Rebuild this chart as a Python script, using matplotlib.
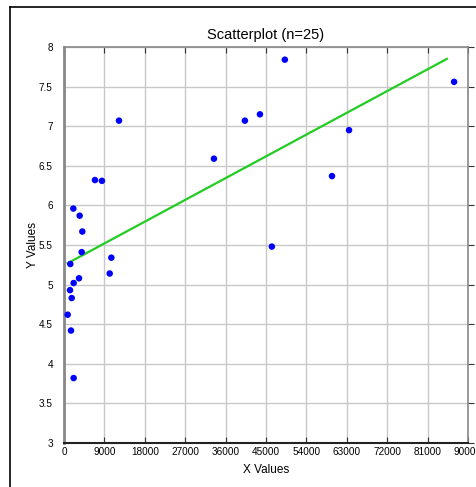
import numpy as np
import matplotlib
matplotlib.use('Agg')
import matplotlib.pyplot as plt
from matplotlib.lines import Line2D

plt.rcParams['font.family'] = ['Liberation Sans', 'DejaVu Sans']

# points
x_vals = [49200, 86900, 12250, 40300, 43650, 63500, 33400, 6900, 8450, 59700,
          46300, 2080, 3490, 4080, 3940, 1410, 10550, 10180, 3340, 2150,
          1340, 1710, 820, 1560, 2150]
y_vals = [7.84, 7.56, 7.07, 7.07, 7.15, 6.95, 6.59, 6.32, 6.31, 6.37,
          5.48, 5.96, 5.87, 5.67, 5.41, 5.26, 5.34, 5.14, 5.08, 5.02,
          4.93, 4.83, 4.62, 4.42, 3.82]

# trend line end points
fit_x = [820, 85300]
fit_y = [5.27, 7.85]

x_ticks = np.arange(0, 90001, 9000)
y_ticks = [3, 3.5, 4, 4.5, 5, 5.5, 6, 6.5, 7, 7.5, 8]
y_tick_labels = ['3', '3.5', '4', '4.5', '5', '5.5', '6', '6.5', '7', '7.5', '8']

fig = plt.figure(figsize=(4.76, 4.87), dpi=100)
ax = fig.add_axes([64/476, 1 - 443/487, 404/476, 396/487])

ax.plot(fit_x, fit_y, color='#22cc22', lw=1.6, zorder=3)
ax.scatter(x_vals, y_vals, s=22, color='#0000ff', edgecolors='none', zorder=4)

ax.set_xlim(0, 90000)
ax.set_ylim(3, 8)
ax.set_xticks(x_ticks)
ax.set_xticklabels([str(v) for v in x_ticks])
ax.set_yticks(y_ticks)
ax.set_yticklabels(y_tick_labels)
ax.grid(True, color='#c8c8c8', lw=1)
ax.set_axisbelow(True)

ax.tick_params(axis='x', top=True, bottom=True, direction='in', length=4,
               labelsize=7.2, color='#333333', pad=3)
ax.tick_params(axis='y', left=False, right=True, direction='out', length=4,
               labelsize=7.2, color='#333333', pad=4)

for side in ['top', 'right']:
    ax.spines[side].set_color('#888888')
    ax.spines[side].set_linewidth(1.2)
ax.spines['left'].set_color('#888888')
ax.spines['left'].set_linewidth(2)
ax.spines['bottom'].set_color('#222222')
ax.spines['bottom'].set_linewidth(1.5)

ax.set_title('Scatterplot (n=25)', fontsize=10.5, pad=6)
ax.set_xlabel('X Values', fontsize=8.5, labelpad=5)
ax.set_ylabel('Y Values', fontsize=8.5, labelpad=0)

# page frame around the chart
fig.add_artist(Line2D([9.5/476, 9.5/476], [0, 1 - 7/487], color='black', lw=1.2))
fig.add_artist(Line2D([9.5/476, 1], [1 - 7/487, 1 - 7/487], color='black', lw=1.2))

fig.savefig('out.png', dpi=100)
